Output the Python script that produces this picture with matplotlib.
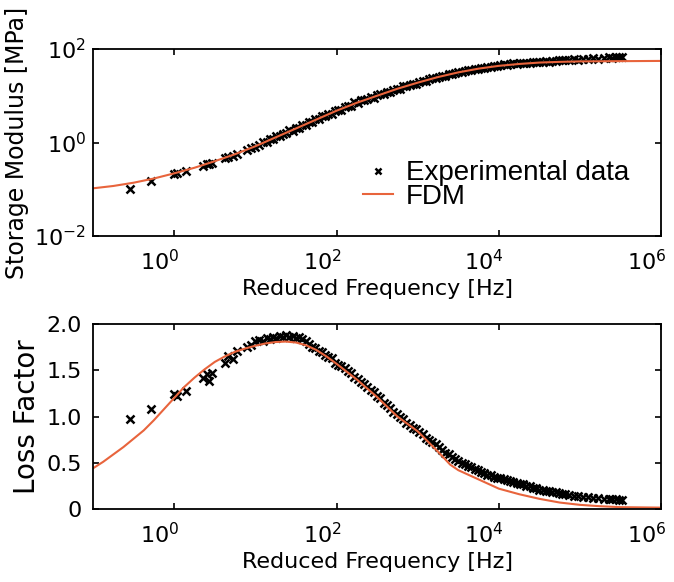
import numpy as np
import matplotlib
matplotlib.use("Agg")
import matplotlib.pyplot as plt
import matplotlib.transforms as mtransforms
from matplotlib.ticker import FixedLocator, NullLocator

# experimental master curve (log10 of reduced frequency in Hz)
exp_logf = [
    -0.55, -0.29, 0.00, 0.03, 0.15, 0.36, 0.40, 0.43, 0.46, 0.62,
    0.66, 0.72, 0.78, 0.90, 0.95, 1.00, 1.05, 1.10, 1.14, 1.18,
    1.22, 1.26, 1.30, 1.34, 1.38, 1.42, 1.46, 1.50, 1.54, 1.58,
    1.62, 1.66, 1.70, 1.74, 1.78, 1.82, 1.86, 1.90, 1.94, 1.98,
    2.02, 2.06, 2.10, 2.14, 2.18, 2.22, 2.26, 2.30, 2.34, 2.38,
    2.42, 2.46, 2.50, 2.54, 2.58, 2.62, 2.66, 2.70, 2.74, 2.78,
    2.82, 2.86, 2.90, 2.94, 2.98, 3.02, 3.06, 3.10, 3.14, 3.18,
    3.22, 3.26, 3.30, 3.34, 3.38, 3.42, 3.46, 3.50, 3.54, 3.58,
    3.62, 3.66, 3.70, 3.74, 3.78, 3.82, 3.86, 3.90, 3.94, 3.98,
    4.02, 4.06, 4.10, 4.14, 4.18, 4.22, 4.26, 4.30, 4.34, 4.38,
    4.42, 4.46, 4.50, 4.54, 4.58, 4.62, 4.66, 4.70, 4.74, 4.78,
    4.82, 4.86, 4.92, 4.98, 5.04, 5.10, 5.16, 5.22, 5.30, 5.36,
    5.40, 5.44, 5.48, 5.52,
]
# log10 of storage modulus in MPa
exp_storage_log = [
    -0.99, -0.82, -0.68, -0.66, -0.62, -0.50, -0.47, -0.46, -0.43, -0.34,
    -0.30, -0.28, -0.24, -0.16, -0.11, -0.09, -0.05, 0.02, 0.01, 0.07,
    0.08, 0.14, 0.13, 0.19, 0.20, 0.26, 0.25, 0.31, 0.32, 0.38,
    0.38, 0.44, 0.44, 0.50, 0.50, 0.56, 0.56, 0.62, 0.62, 0.68,
    0.70, 0.70, 0.77, 0.79, 0.78, 0.86, 0.84, 0.90, 0.91, 0.92,
    0.97, 0.96, 1.02, 1.03, 1.04, 1.09, 1.08, 1.13, 1.15, 1.15,
    1.20, 1.20, 1.24, 1.25, 1.26, 1.30, 1.32, 1.32, 1.36, 1.37,
    1.38, 1.41, 1.42, 1.43, 1.46, 1.47, 1.48, 1.51, 1.51, 1.53,
    1.55, 1.55, 1.57, 1.58, 1.59, 1.60, 1.62, 1.62, 1.64, 1.64,
    1.66, 1.67, 1.66, 1.68, 1.69, 1.68, 1.70, 1.71, 1.70, 1.71,
    1.72, 1.72, 1.73, 1.72, 1.74, 1.73, 1.75, 1.74, 1.76, 1.76,
    1.77, 1.76, 1.78, 1.77, 1.79, 1.78, 1.80, 1.79, 1.81, 1.82,
    1.80, 1.83, 1.82, 1.83,
]
exp_loss = [
    0.97, 1.08, 1.24, 1.22, 1.28, 1.42, 1.46, 1.38, 1.47, 1.58,
    1.65, 1.62, 1.71, 1.75, 1.77, 1.82, 1.83, 1.82, 1.85, 1.84,
    1.86, 1.85, 1.87, 1.86, 1.88, 1.86, 1.87, 1.85, 1.86, 1.84,
    1.82, 1.78, 1.75, 1.74, 1.71, 1.70, 1.67, 1.64, 1.63, 1.58,
    1.56, 1.55, 1.52, 1.49, 1.47, 1.43, 1.41, 1.37, 1.35, 1.32,
    1.29, 1.26, 1.22, 1.20, 1.15, 1.12, 1.09, 1.05, 1.03, 0.99,
    0.97, 0.93, 0.91, 0.88, 0.86, 0.83, 0.81, 0.77, 0.75, 0.72,
    0.70, 0.67, 0.64, 0.61, 0.59, 0.56, 0.54, 0.52, 0.50, 0.49,
    0.46, 0.45, 0.43, 0.42, 0.40, 0.39, 0.37, 0.37, 0.35, 0.34,
    0.34, 0.32, 0.31, 0.30, 0.29, 0.28, 0.27, 0.27, 0.25, 0.25,
    0.23, 0.23, 0.21, 0.21, 0.20, 0.19, 0.18, 0.18, 0.17, 0.16,
    0.16, 0.15, 0.14, 0.14, 0.13, 0.13, 0.12, 0.12, 0.11, 0.11,
    0.11, 0.11, 0.10, 0.10,
]

# FDM model curves
fdm_storage_logf = [-1.0, -0.75, -0.5, -0.25, 0.0, 0.25, 0.5, 0.75, 1.0, 1.25,
                    1.5, 1.75, 2.0, 2.25, 2.5, 2.75, 3.0, 3.25, 3.5, 3.75,
                    4.0, 4.25, 4.5, 4.75, 5.0, 5.5, 6.0]
fdm_storage_log = [-0.98, -0.93, -0.86, -0.77, -0.66, -0.54, -0.40, -0.25, -0.08, 0.11,
                   0.30, 0.49, 0.68, 0.85, 1.00, 1.15, 1.28, 1.40, 1.50, 1.58,
                   1.64, 1.68, 1.71, 1.725, 1.735, 1.74, 1.745]
fdm_loss_logf = [-1.0, -0.875, -0.75, -0.625, -0.5, -0.375, -0.25, -0.125, 0.0, 0.125,
                 0.25, 0.375, 0.5, 0.625, 0.75, 0.875, 1.0, 1.125, 1.25, 1.375,
                 1.5, 1.625, 1.75, 1.875, 2.0, 2.25, 2.5, 2.75, 3.0, 3.25,
                 3.4, 3.5, 3.75, 4.0, 4.25, 4.5, 4.75, 5.0, 5.25, 5.5, 6.0]
fdm_loss = [0.44, 0.51, 0.59, 0.67, 0.76, 0.85, 0.96, 1.08, 1.20, 1.32,
            1.42, 1.51, 1.59, 1.65, 1.70, 1.735, 1.765, 1.79, 1.805, 1.81,
            1.80, 1.77, 1.72, 1.65, 1.57, 1.40, 1.21, 1.00, 0.84, 0.62,
            0.48, 0.42, 0.32, 0.22, 0.16, 0.11, 0.07, 0.045, 0.03, 0.02, 0.015]

exp_f = 10.0 ** np.array(exp_logf)

red = "#e8643c"
tick_font = 16

fig = plt.figure(figsize=(6.74, 5.82), dpi=100)
ax1 = fig.add_axes([0.138, 0.5945, 0.843, 0.3213])
ax2 = fig.add_axes([0.138, 0.1254, 0.843, 0.3179])

# --- storage modulus ---
ax1.plot(exp_f, 10.0 ** np.array(exp_storage_log), linestyle="none", marker="x",
         color="black", markersize=6, markeredgewidth=1.8, label="Experimental data")
ax1.plot(10.0 ** np.array(fdm_storage_logf), 10.0 ** np.array(fdm_storage_log),
         color=red, lw=1.5, label="FDM")
ax1.set_xscale("log")
ax1.set_yscale("log")
ax1.set_xlim(0.1, 1e6)
ax1.set_ylim(1e-2, 1e2)
ax1.yaxis.set_major_locator(FixedLocator([1e-2, 1e0, 1e2]))
ax1.set_yticklabels(["$10^{-2}$", "$10^{0}$", "$10^{2}$"])
ax1.set_ylabel("Storage Modulus [MPa]", fontsize=17, labelpad=4)

leg = ax1.legend(loc="upper left", bbox_to_anchor=(0.475, 0.405), frameon=False,
                 prop={"family": "Liberation Sans", "size": 20}, numpoints=1,
                 handlelength=1.1, handletextpad=0.45, labelspacing=-0.08,
                 borderpad=0, borderaxespad=0, markerscale=0.7)

# --- loss factor ---
ax2.plot(exp_f, exp_loss, linestyle="none", marker="x", color="black",
         markersize=6, markeredgewidth=1.8)
ax2.plot(10.0 ** np.array(fdm_loss_logf), fdm_loss, color=red, lw=1.5)
ax2.set_xscale("log")
ax2.set_xlim(0.1, 1e6)
ax2.set_ylim(0, 2.0)
ax2.set_yticks([0, 0.5, 1.0, 1.5, 2.0])
ax2.set_yticklabels(["0", "0.5", "1.0", "1.5", "2.0"])
ax2.set_ylabel("Loss Factor", fontsize=20, labelpad=4)

shift = mtransforms.ScaledTranslation(0.05, 0, fig.dpi_scale_trans)
for ax in (ax1, ax2):
    ax.xaxis.set_major_locator(FixedLocator([1e0, 1e2, 1e4, 1e6]))
    ax.set_xticklabels(["$10^{0}$", "$10^{2}$", "$10^{4}$", "$10^{6}$"])
    ax.xaxis.set_minor_locator(NullLocator())
    ax.yaxis.set_minor_locator(NullLocator())
    ax.tick_params(which="major", direction="in", length=4, width=1.2,
                   top=True, right=True, labelsize=tick_font, pad=5)
    ax.tick_params(axis="x", pad=9)
    for lab in ax.get_xticklabels():
        lab.set_ha("right")
        lab.set_transform(lab.get_transform() + shift)
    for sp in ax.spines.values():
        sp.set_linewidth(1.3)
    ax.set_xlabel("Reduced Frequency [Hz]", fontsize=16, labelpad=4)

ax2.tick_params(axis="y", pad=8)

fig.savefig("out.png", dpi=100)
